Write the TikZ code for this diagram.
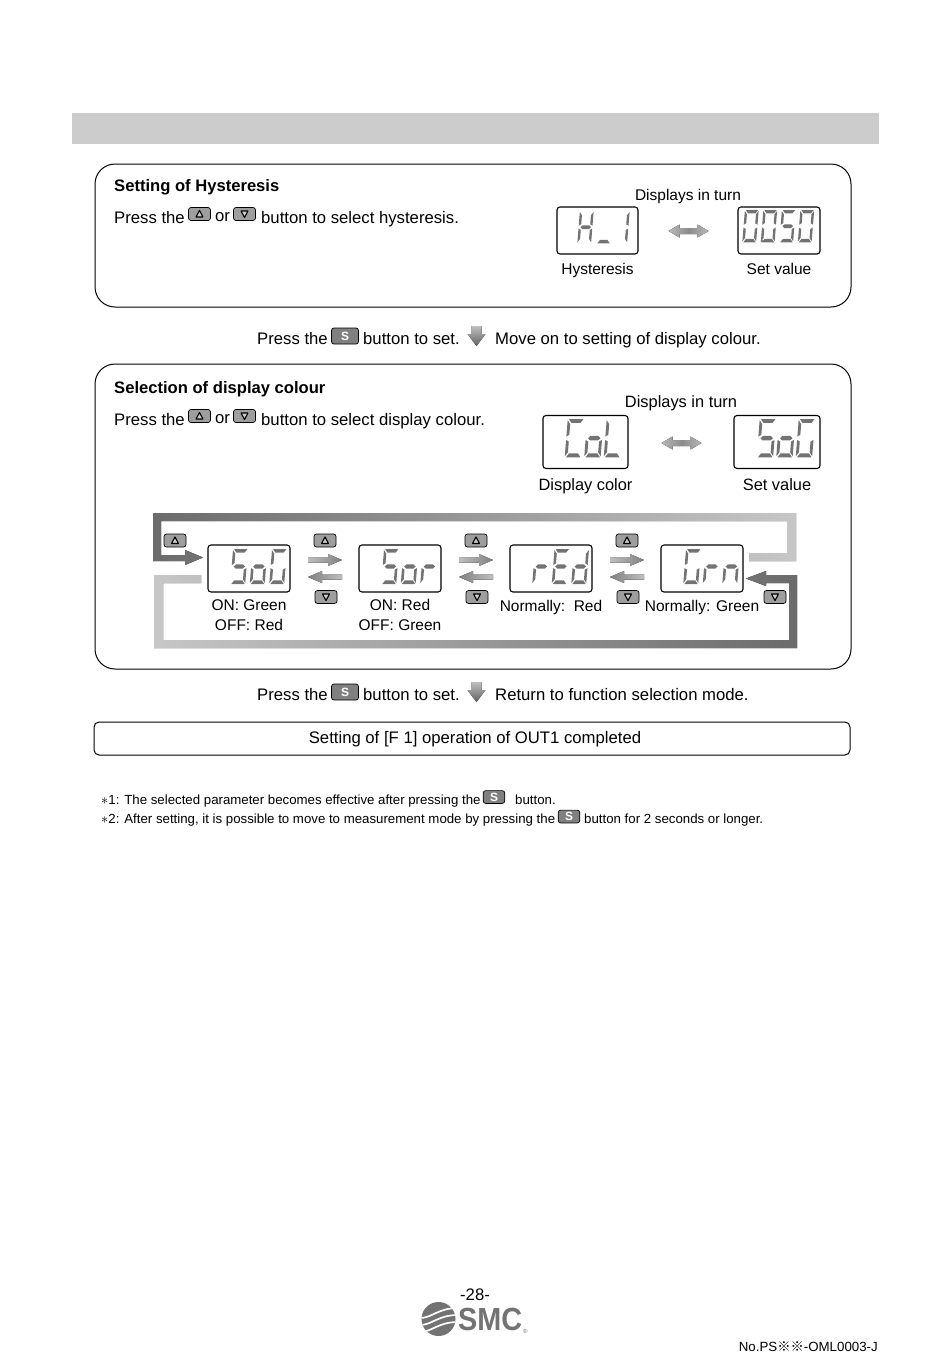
\documentclass[tikz,border=0pt]{standalone}
\usepackage{fontspec}
\setmainfont{Liberation Sans}
\newfontfamily\cjkfont{Noto Sans CJK JP}
\usepackage{tikz}
\newcommand{\lcdchar}[3]{\edef\seglist{#3}\foreach \s in \seglist {\pic[#1] at (#2) {seg\s};}}
\tikzset{
	segfill/.style={fill=black!55, draw=none},
	sega/.pic={\fill[segfill, xslant=0.08] (3,0)--(16,0)--(13.5,3.5)--(5.5,3.5)--cycle;},
	segb/.pic={\fill[segfill, xslant=0.08] (16.5,1)--(16.5,15.5)--(14,14)--(14,4.5)--cycle;},
	segc/.pic={\fill[segfill, xslant=0.08] (16.5,18.5)--(16.5,33)--(14,29.5)--(14,20)--cycle;},
	segd/.pic={\fill[segfill, xslant=0.08] (3,34)--(16,34)--(13.5,30.5)--(5.5,30.5)--cycle;},
	sege/.pic={\fill[segfill, xslant=0.08] (2,18.5)--(2,33)--(4.5,29.5)--(4.5,20)--cycle;},
	segf/.pic={\fill[segfill, xslant=0.08] (2,1)--(2,15.5)--(4.5,14)--(4.5,4.5)--cycle;},
	segg/.pic={\fill[segfill, xslant=0.08] (4,17)--(6,15)--(13,15)--(15,17)--(13,19)--(6,19)--cycle;},
	btnup/.pic={\draw[fill=black!38, rounded corners=2.5pt, line width=.7pt] (-11,-6.5) rectangle (11,6.5);
		\draw[fill=black!20, line width=1.1pt, line join=round] (0,-3.5)--(3.5,3)--(-3.5,3)--cycle;},
	btndown/.pic={\draw[fill=black!38, rounded corners=2.5pt, line width=.7pt] (-11,-6.5) rectangle (11,6.5);
		\draw[fill=black!20, line width=1.1pt, line join=round] (0,3.5)--(3.5,-3)--(-3.5,-3)--cycle;},
	btnset/.pic={\draw[fill=black!50, rounded corners=2.5pt, line width=.7pt] (-13.5,-8) rectangle (13.5,8);
		\node[font=\bfseries\fontsize{12}{12}\selectfont, white] (sign) at (0,0) {S};},
	rarrow/.pic={\fill[left color=black!25, right color=black!50] (-17,-2.5)--(3,-2.5)--(3,-6)--(17,0)--(3,6)--(3,2.5)--(-17,2.5)--cycle;},
	larrow/.pic={\fill[right color=black!25, left color=black!50] (17,-2.5)--(-3,-2.5)--(-3,-6)--(-17,0)--(-3,6)--(-3,2.5)--(17,2.5)--cycle;},
	twoway/.pic={\fill[left color=black!28, right color=black!28, middle color=black!45] (-20,0)--(-9,-6.5)--(-9,-3)--(9,-3)--(9,-6.5)--(20,0)--(9,6.5)--(9,3)--(-9,3)--(-9,6.5)--cycle;},
	downarrow/.pic={\fill[top color=black!25, bottom color=black!62] (-5,-10)--(5,-10)--(5,-2)--(9,-2)--(0,10)--(-9,-2)--(-5,-2)--cycle;},
	lcd/.style={draw, rounded corners=3pt, line width=1.1pt, fill=white, inner sep=0pt},
	panel/.style={draw, rounded corners=20pt, line width=1pt},
	txt/.style={font=\fontsize{16.7}{16.7}\selectfont, anchor=base west, inner sep=0pt},
	titletxt/.style={font=\fontsize{16.6}{16.6}\selectfont\bfseries, anchor=base west, inner sep=0pt},
	captxt/.style={font=\fontsize{15.5}{15.5}\selectfont, anchor=base, inner sep=0pt},
	bigcap/.style={font=\fontsize{16.4}{16.4}\selectfont, anchor=base, inner sep=0pt},
	notetxt/.style={font=\fontsize{13.25}{13.25}\selectfont, anchor=base west, inner sep=0pt},
}
\begin{document}
\begin{tikzpicture}[x=1pt, y=-1pt]
	\useasboundingbox (0,0) rectangle (950,1360);
	\fill[white] (0,0) rectangle (950,1360);
	\fill[black!20] (72,113) rectangle (879,144);
	\draw[panel] (95,164) rectangle (851,307);
	\draw[panel] (95,364) rectangle (851,669);
	\node[titletxt] (hystitle) at (114,191) {Setting of Hysteresis};
	\node[txt] (hys1) at (114,223) {Press the};
	\pic at (199.5,214) {btnup};
	\node[txt] (hys2) at (215,221) {or};
	\pic at (244.5,214) {btndown};
	\node[txt] (hys3) at (261,223) {button to select hysteresis.};
	\node[captxt] (hysturn) at (688,200) {Displays in turn};
	\node[lcd, minimum width=81pt, minimum height=47pt] (dsphys) at (597.5,230.5) {};
	\node[lcd, minimum width=82pt, minimum height=47pt] (dspval) at (779,230.5) {};
	\node[captxt] (hyscap) at (597.5,274) {Hysteresis};
	\node[captxt] (valcap) at (779,274) {Set value};
	\pic at (688.5,231) {twoway};
	\lcdchar{scale=.95}{578,211}{b,c,e,f,g}
	\lcdchar{scale=.95}{597,211}{d}
	\lcdchar{scale=.95}{614,211}{b,c}
	\foreach \x in {743,761.5,798.5} {\lcdchar{scale=.95}{\x,210}{a,b,c,d,e,f}}
	\lcdchar{scale=.95}{780,210}{a,f,g,c,d}
	\fill[black!55] (762,241) circle (1.3);
	\node[txt] (set1a) at (257,344) {Press the};
	\pic at (345,336) {btnset};
	\node[txt] (set1b) at (363,344) {button to set.};
	\pic at (476.5,336) {downarrow};
	\node[txt] (set1c) at (495,344) {Move on to setting of display colour.};
	\node[titletxt] (coltitle) at (114,393) {Selection of display colour};
	\node[txt] (col1) at (114,425) {Press the};
	\pic at (199.5,416) {btnup};
	\node[txt] (col2) at (215,423) {or};
	\pic at (244.5,416) {btndown};
	\node[txt] (col3) at (261,425) {button to select display colour.};
	\node[bigcap] (colturn) at (681,407) {Displays in turn};
	\node[lcd, minimum width=85pt, minimum height=53pt] (dspcol) at (585.5,442) {};
	\node[lcd, minimum width=86pt, minimum height=53pt] (dspset) at (777,442) {};
	\node[bigcap] (colcap) at (585.5,490) {Display color};
	\node[bigcap] (setcap) at (777,490) {Set value};
	\pic at (681.5,443) {twoway};
	\lcdchar{scale=1.13}{565.5,419}{a,f,e,d}
	\lcdchar{scale=1.13}{585,419}{c,d,e,g}
	\lcdchar{scale=1.13}{604.5,419}{f,e,d}
	\lcdchar{scale=1.13}{757.5,419}{a,f,g,c,d}
	\lcdchar{scale=1.13}{777,419}{c,d,e,g}
	\lcdchar{scale=1.13}{796.5,419}{a,f,e,d,c}
	\fill[left color=black!58, right color=black!22] (153,513)--(796,513)--(796,561)--(749,561)--(749,553)--(787,553)--(787,521)--(161,521)--(161,555)--(185,555)--(185,550)--(203,557.5)--(185,565)--(185,561)--(153,561)--cycle;
	\fill[left color=black!22, right color=black!58] (201,575)--(154,575)--(154,648)--(797,648)--(797,575)--(766,575)--(766,571)--(746,578.5)--(766,586)--(766,583)--(789,583)--(789,640)--(163,640)--(163,583)--(201,583)--cycle;
	\pic at (175,540.5) {btnup};
	\pic at (775,597) {btndown};
	\foreach \x/\n/\A/\B/\C in {0/sog/{a,f,g,c,d}/{c,d,e,g}/{a,f,e,d,c}, 1/sor/{a,f,g,c,d}/{c,d,e,g}/{e,g}, 2/red/{e,g}/{a,f,g,e,d}/{b,c,d,e,g}, 3/grn/{a,f,e,d,c}/{e,g}/{c,e,g}} {
		\node[lcd, minimum width=82pt, minimum height=47pt] (dsp\n) at ({249+151*\x},568.5) {};
		\lcdchar{scale=1.03}{{231+151*\x},549}{\A}
		\lcdchar{scale=1.03}{{250.5+151*\x},549}{\B}
		\lcdchar{scale=1.03}{{270+151*\x},549}{\C}
	}
	\foreach \x in {0,1,2} {
		\pic at ({325+151*\x},540.5) {btnup};
		\pic at ({325+151*\x},560) {rarrow};
		\pic at ({325+151*\x},577) {larrow};
		\pic at ({326+151*\x},597) {btndown};
	}
	\node[captxt] (cap1a) at (249,610) {ON: Green};
	\node[captxt] (cap1b) at (249,630) {OFF: Red};
	\node[captxt] (cap2a) at (400,610) {ON: Red};
	\node[captxt] (cap2b) at (400,630) {OFF: Green};
	\node[captxt] (cap3) at (551,611) {Normally:\ \ Red};
	\node[captxt] (cap4) at (702,611) {Normally: Green};
	\node[txt] (set2a) at (257,700) {Press the};
	\pic at (345,692) {btnset};
	\node[txt] (set2b) at (363,700) {button to set.};
	\pic at (476.5,692) {downarrow};
	\node[txt] (set2c) at (495,700) {Return to function selection mode.};
	\draw[rounded corners=5pt, line width=1pt] (94,722) rectangle (850,755);
	\node[txt, anchor=base] (done) at (475,743) {Setting of [F 1] operation of OUT1 completed};
	\node[notetxt] (note1a) at (101,804) {$*$1: The selected parameter becomes effective after pressing the};
	\pic[scale=.8] at (494,797) {btnset};
	\node[notetxt] (note1b) at (515,804) {button.};
	\node[notetxt] (note2a) at (101,823) {$*$2: After setting, it is possible to move to measurement mode by pressing the};
	\pic[scale=.8] at (569,816.5) {btnset};
	\node[notetxt] (note2b) at (584,823) {button for 2 seconds or longer.};
	\node[txt, anchor=base] (page) at (475,1300) {-28-};
	\begin{scope}
		\clip (438.5,1319) circle (17);
		\fill[black!55] (420,1300) rectangle (458,1338);
		\foreach \y in {-5,2,9} {\draw[white, line width=1.7pt] (420,1323+\y) .. controls (432,1323+\y) and (438,1313+\y) .. (458,1313+\y);}
	\end{scope}
	\node[inner sep=0pt, text=black!55, anchor=base west, font=\fontsize{32}{32}\selectfont\bfseries, xscale=.9] (logo) at (458,1330) {SMC};
	\node[inner sep=0pt, text=black!55, anchor=base west, font=\fontsize{6}{6}\selectfont] (logor) at (523,1333) {®};
	\node[inner sep=0pt, anchor=base east, font=\fontsize{13.3}{13.3}\selectfont] (docno) at (878,1351) {No.PS{\cjkfont ※※}-OML0003-J};
\end{tikzpicture}
\end{document}
